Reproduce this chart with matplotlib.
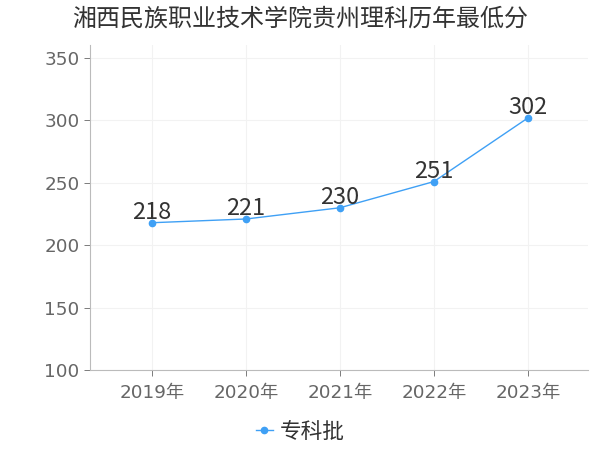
import matplotlib
matplotlib.use("Agg")
import matplotlib.pyplot as plt

plt.rcParams['font.family'] = ['DejaVu Sans', 'Noto Sans CJK SC']

title = "湘西民族职业技术学院贵州理科历年最低分"
years = ["2019年", "2020年", "2021年", "2022年", "2023年"]
scores = [218, 221, 230, 251, 302]
series_name = "专科批"
color = "#3fa0f5"

cjk = ['Noto Sans CJK SC', 'DejaVu Sans']

fig = plt.figure(figsize=(6, 4.5), dpi=100)
ax = fig.add_axes([0.15, 0.178, 0.83, 0.722])
x = list(range(len(years)))
ax.plot(x, scores, color=color, lw=1.0, marker='o', ms=4.5, label=series_name)
for xi, v in zip(x, scores):
    ax.annotate(str(v), (xi, v), xytext=(0, -1), textcoords='offset points',
                ha='center', va='bottom', fontsize=17, color='#333333', family=cjk)

ax.set_xlim(-0.66, 4.64)
ax.set_ylim(100, 360.5)
ax.set_yticks([100, 150, 200, 250, 300, 350])
ax.set_xticks(x)
ax.set_xticklabels(years)
ax.tick_params(axis='both', colors='#666666', labelsize=13.2, length=4, width=0.6)
ax.tick_params(axis='x', pad=6)
for s in ['top', 'right']:
    ax.spines[s].set_visible(False)
for s in ['left', 'bottom']:
    ax.spines[s].set_color('#bbbbbb')
    ax.spines[s].set_linewidth(0.8)
ax.grid(True, color='#f2f2f2', lw=0.8)
ax.set_axisbelow(True)

fig.text(0.5, 0.958, title, ha='center', va='center', fontsize=17.3, color='#333333',
         family=cjk)
fig.legend(loc='center', bbox_to_anchor=(0.5, 0.04), frameon=False,
           prop={'family': cjk, 'size': 15.6},
           handlelength=0.8, handletextpad=0.3, labelcolor='#333333')

fig.savefig("out.png", dpi=100)
